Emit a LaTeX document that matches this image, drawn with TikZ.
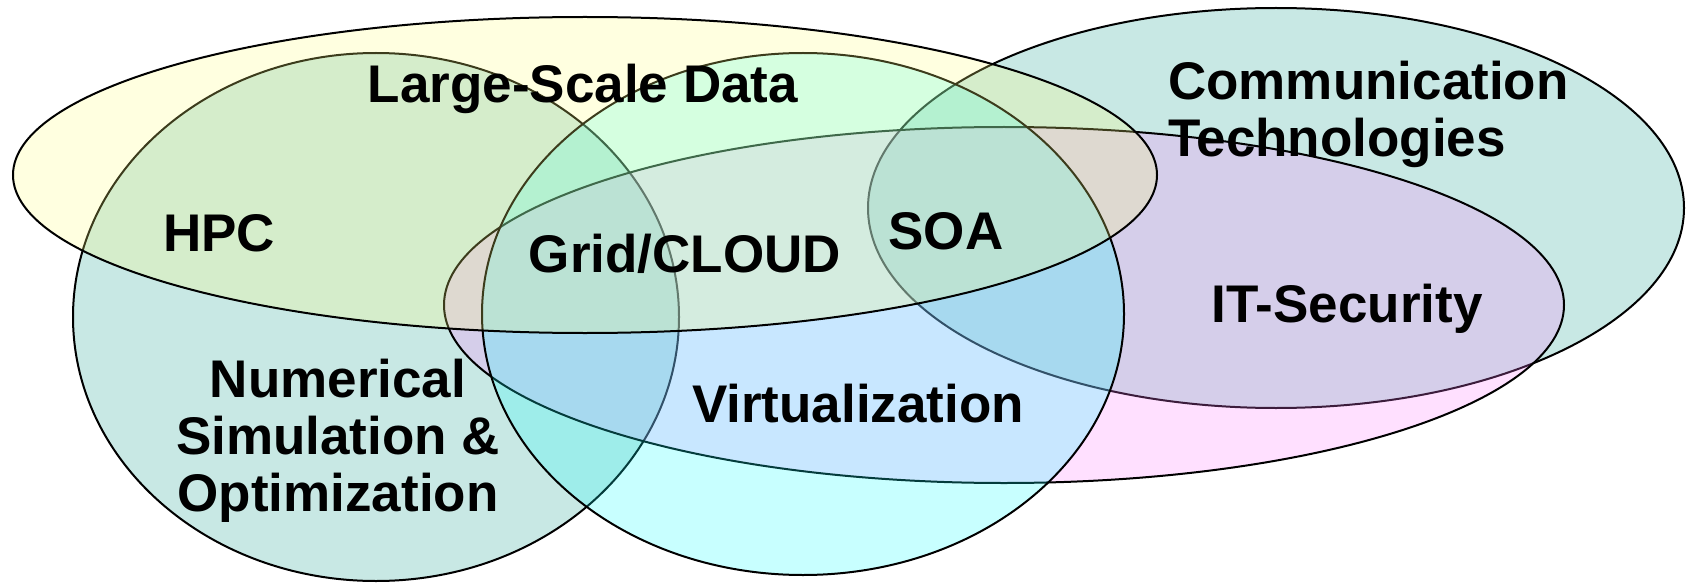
\documentclass[tikz,border=0pt]{standalone}
\usepackage{fontspec}
\setmainfont{Liberation Sans}

\definecolor{tealset}{RGB}{21,157,140}
\definecolor{pinkset}{RGB}{255,123,255}
\definecolor{cyanset}{RGB}{21,255,255}
\definecolor{yellowset}{RGB}{255,255,123}

\begin{document}
\begin{tikzpicture}[x=1pt,y=-1pt]
   \tikzstyle{set}=[draw=black,line width=2pt,fill opacity=0.235]
   \tikzstyle{topic}=[inner sep=0pt,anchor=base,font=\bfseries\fontsize{53}{57}\selectfont]
   \useasboundingbox (0,0) rectangle (1687,583) ;
   % sets, drawn back to front
   \path [set,fill=tealset] (376,317) ellipse [x radius=303pt,y radius=264pt] ;
   \path [set,fill=tealset] (1276,208) ellipse [x radius=408pt,y radius=200pt] ;
   \path [set,fill=pinkset] (1004,305) ellipse [x radius=560pt,y radius=178pt] ;
   \path [set,fill=cyanset] (803,314) ellipse [x radius=321pt,y radius=261pt] ;
   \path [set,fill=yellowset] (585,175) ellipse [x radius=572pt,y radius=158pt] ;
   % topics (multi-line ones sit on their last baseline)
   \node (data) [topic] at (583,103) {Large-Scale Data} ;
   \node (hpc) [topic] at (219,251) {HPC} ;
   \node (grid) [topic] at (685,272) {Grid/CLOUD} ;
   \node (soa) [topic] at (946,249) {SOA} ;
   \node (comm) [topic,anchor=base west,align=left] at (1168,157) {Communication\\Technologies} ;
   \node (sec) [topic] at (1347,322) {IT-Security} ;
   \node (virt) [topic] at (858,422) {Virtualization} ;
   \node (num) [topic,align=center] at (338,511) {Numerical\\Simulation \&\\Optimization} ;
\end{tikzpicture}
\end{document}
